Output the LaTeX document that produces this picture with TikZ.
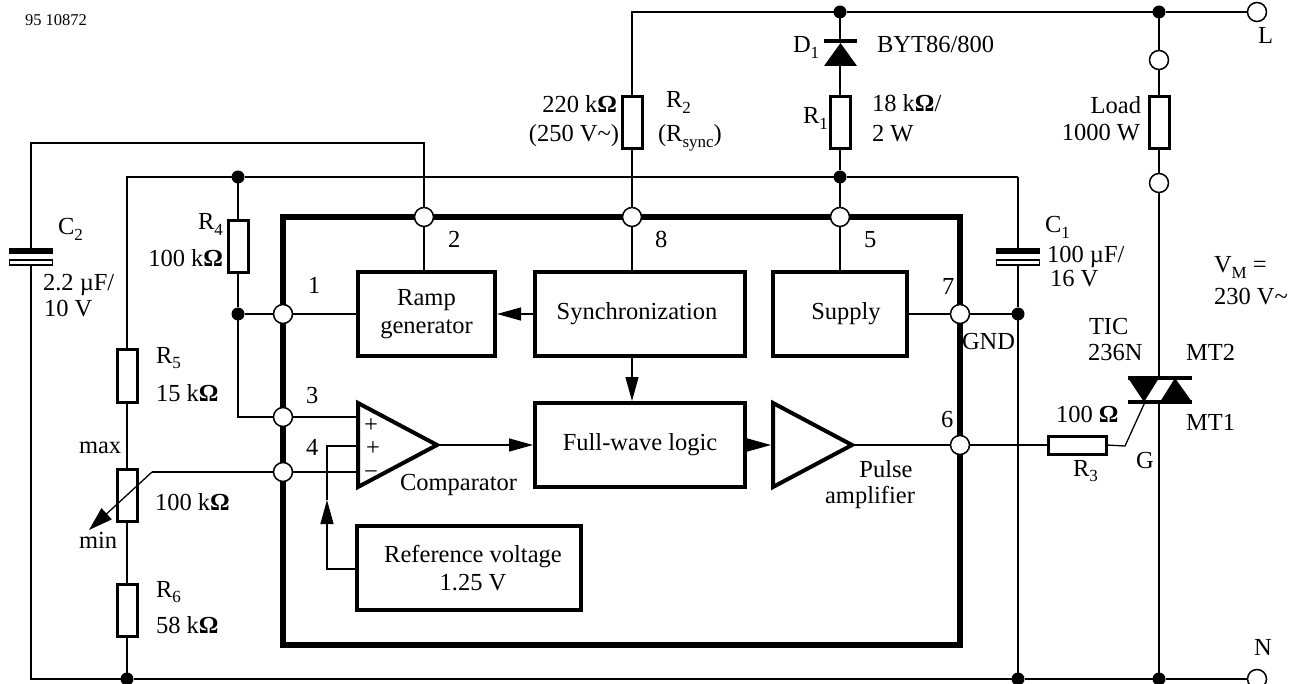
\documentclass[tikz,border=0pt]{standalone}
\usepackage{fontspec}
\setmainfont{Liberation Serif}
\usetikzlibrary{arrows.meta}
\newcommand{\lowsub}[1]{\raisebox{-0.24em}{\fontsize{17}{17}\selectfont #1}}
\newcommand{\ohm}{\textbf{Ω}}
\newcommand{\tld}{\symbol{"7E}}
\begin{document}
\begin{tikzpicture}[x=1pt,y=-1pt,
  wire/.style={line width=1.3pt,draw=black,line join=miter},
  arrowwire/.style={wire,-{Triangle[length=24pt,width=13pt]}},
  chipbox/.style={draw=black,line width=6pt,fill=white,inner sep=0pt,outer sep=0pt,rectangle,minimum width=677pt,minimum height=428pt},
  block/.style={draw=black,line width=3.2pt,fill=white,rectangle,inner sep=0pt,outer sep=0pt,align=center,font=\fontsize{24.5}{28}\selectfont},
  resistor/.style={draw=black,line width=3pt,fill=white,rectangle,inner sep=0pt,outer sep=0pt,minimum width=20pt,minimum height=52pt},
  pin/.style={circle,draw=black,line width=1.5pt,fill=white,inner sep=0pt,outer sep=0pt,minimum size=19pt},
  junction/.style={circle,fill=black,inner sep=0pt,outer sep=0pt,minimum size=13pt},
  plate/.style={rectangle,draw=black,inner sep=0pt,outer sep=0pt,minimum width=43pt,minimum height=5pt},
  lab/.style={inner sep=0pt,outer sep=0pt,anchor=base west,font=\fontsize{24.5}{28}\selectfont},
  labr/.style={lab,anchor=base east},
  labc/.style={lab,anchor=base},
  amp/.style={draw=black,line width=4pt,fill=white,line join=miter}]
\useasboundingbox (0,0) rectangle (1290,684);
% chip
\node[chipbox] (chip) at (621.5,431) {};
% blocks
\node[block,minimum width=137pt,minimum height=84pt] (ramp) at (426.5,314) {Ramp\\generator};
\node[block,minimum width=210pt,minimum height=84pt] (sync) at (640,314) {Synchronization\hspace{6pt}};
\node[block,minimum width=134pt,minimum height=84pt] (supply) at (840,314) {\hspace{12pt}Supply};
\node[block,minimum width=210pt,minimum height=84pt] (logic) at (640,445) {Full-wave logic};
\node[block,minimum width=224pt,minimum height=84pt] (ref) at (469,568) {\hspace{8pt}Reference voltage\\\hspace{8pt}1.25 V};
% triangles
\coordinate (cmpout) at (437,445);
\coordinate (cmpp1) at (358,417);
\coordinate (cmpp2) at (358,446);
\coordinate (cmpm) at (358,472);
\draw[amp] (358,403) -- (358,487) -- (cmpout) -- cycle;
\coordinate (pain) at (773,445);
\coordinate (paout) at (852,445);
\draw[amp] (773,403) -- (773,487) -- (paout) -- cycle;
% pins
\node[pin] (p1) at (283,314) {};
\node[pin] (p2) at (424,217) {};
\node[pin] (p3) at (283,417) {};
\node[pin] (p4) at (283,472) {};
\node[pin] (p5) at (840,217) {};
\node[pin] (p6) at (960,445) {};
\node[pin] (p7) at (960,314) {};
\node[pin] (p8) at (632,217) {};
\node[pin] (tL) at (1257,12) {};
\node[pin] (tN) at (1257,679) {};
\node[pin] (loadA) at (1159,60) {};
\node[pin] (loadB) at (1159,183) {};
% resistors
\node[resistor] (R2) at (632,123) {};
\node[resistor] (R1) at (840,123) {};
\node[resistor] (Rl) at (1159,123) {};
\node[resistor] (R4) at (238,246.5) {};
\node[resistor] (R5) at (127,376) {};
\node[resistor] (Rp) at (127,495) {};
\node[resistor] (R6) at (127,610) {};
\node[resistor,minimum width=58pt,minimum height=18pt] (R3) at (1077.5,445) {};
% capacitors
\node[plate,fill=black] (c2a) at (31,251) {};
\node[plate,fill=white,line width=1.5pt] (c2b) at (31,262.5) {};
\node[plate,fill=black] (c1a) at (1018,250.5) {};
\node[plate,fill=white,line width=1.5pt] (c1b) at (1018,262.5) {};
% junctions
\node[junction] (jt1) at (840,12) {};
\node[junction] (jt2) at (1159,12) {};
\node[junction] (jm1) at (238,177) {};
\node[junction] (jm2) at (840,177) {};
\node[junction] (j1) at (238,314) {};
\node[junction] (j7) at (1018,314) {};
\node[junction] (jb1) at (127,679) {};
\node[junction] (jb2) at (1018,679) {};
\node[junction] (jb3) at (1159,679) {};
% corner coordinates
\coordinate (topc) at (632,12);
\coordinate (c2up) at (31,143);
\coordinate (c2up2) at (424,143);
\coordinate (c2dn) at (31,679);
\coordinate (midl) at (127,177);
\coordinate (midr) at (1018,177);
\coordinate (j3) at (238,417);
\coordinate (wip) at (152,472);
\coordinate (wiptip) at (89,530);
\coordinate (refc1) at (327,569);
\coordinate (refc2) at (327,446);
\coordinate (refc3) at (327,500);
\coordinate (dk) at (840,41);
\coordinate (da) at (840,66);
\coordinate (triT) at (1159,378);
\coordinate (triB) at (1159,402);
\coordinate (gc) at (1125,446);
\coordinate (gt) at (1145,402);
% wires
\draw[wire] (tL.west) -- (jt2) -- (jt1) -- (topc) -- (R2.north);
\draw[wire] (R2.south) -- (p8.north);
\draw[wire] (p8.south) -- (p8.south |- sync.north);
\draw[wire] (jt1) -- (dk);
\draw[wire] (da) -- (R1.north);
\draw[wire] (R1.south) -- (jm2) -- (p5.north);
\draw[wire] (p5.south) -- (supply.north);
\draw[wire] (jt2) -- (loadA.north);
\draw[wire] (loadA.south) -- (Rl.north);
\draw[wire] (Rl.south) -- (loadB.north);
\draw[wire] (loadB.south) -- (triT);
\draw[wire] (triB) -- (jb3);
\draw[wire] (midr) -- (jm2) -- (jm1) -- (midl) -- (R5.north);
\draw[wire] (midr) -- (c1a.north);
\draw[wire] (c1b.south) -- (j7) -- (jb2);
\draw[wire] (c2a.north) -- (c2up) -- (c2up2) -- (p2.north);
\draw[wire] (p2.south) -- (ramp.north -| p2.south);
\draw[wire] (c2b.south) -- (c2dn) -- (jb1) -- (jb2) -- (jb3) -- (tN.west);
\draw[wire] (jm1) -- (R4.north);
\draw[wire] (R4.south) -- (j1) -- (j3) -- (p3.west);
\draw[wire] (j1) -- (p1.west);
\draw[wire] (p1.east) -- (ramp.west);
\draw[wire] (p3.east) -- (cmpp1);
\draw[wire] (p4.east) -- (cmpm);
\draw[wire] (R5.south) -- (Rp.north);
\draw[wire] (Rp.south) -- (R6.north);
\draw[wire] (R6.south) -- (jb1);
\draw[wire] (p4.west) -- (wip);
\draw[wire,-{Triangle[length=24pt,width=15pt]}] (wip) -- (wiptip);
\draw[wire] (cmpp2) -- (refc2) -- (refc3);
\draw[arrowwire] (ref.west |- refc1) -- (refc1) -- (refc3);
\draw[arrowwire,shorten >=2pt] (cmpout) -- (logic.west);
\draw[arrowwire,shorten >=2pt] (logic.east) -- (pain);
\draw[arrowwire,shorten >=2pt] (sync.west) -- (ramp.east);
\draw[arrowwire,shorten >=2pt] (sync.south -| p8) -- (logic.north -| p8);
\draw[wire] (paout) -- (p6.west);
\draw[wire] (p6.east) -- (R3.west);
\draw[wire] (R3.east) -- (gc) -- (gt);
\draw[wire] (supply.east) -- (p7.west);
\draw[wire] (p7.east) -- (j7);
% diode
\fill (824,66) -- (857,66) -- (840.5,43) -- cycle;
\fill (824,39) rectangle (857,43);
% triac
\fill (1128,376) rectangle (1192,380);
\fill (1128,400) rectangle (1192,404);
\fill (1128,378) -- (1159,378) -- (1144,402) -- cycle;
\fill (1160,402) -- (1192,402) -- (1175,378) -- cycle;
% labels
\node[lab,font=\fontsize{16.5}{18}\selectfont] (tag) at (25,26) {95 10872};
\node[lab] (lD1) at (793,53) {D\lowsub{1}};
\node[lab] (lD1v) at (877,53) {BYT86/800};
\node[labr] (lR2a) at (617,113) {220 k\ohm};
\node[labr] (lR2b) at (619,142) {(250 V\tld)};
\node[lab] (lR2) at (666,108) {R\lowsub{2}};
\node[lab] (lR2s) at (658,142) {(R\lowsub{sync})};
\node[lab] (lR1) at (803,124) {R\lowsub{1}};
\node[lab] (lR1a) at (872,112) {18 k\ohm/};
\node[lab] (lR1b) at (872,142) {2 W};
\node[lab] (lL) at (1258,44) {L};
\node[lab] (lN) at (1254,655) {N};
\node[labr] (lLoad) at (1141,114) {Load};
\node[labr] (lLoadb) at (1140,141) {1000 W};
\node[lab] (lC2) at (58,235) {C\lowsub{2}};
\node[lab] (lC2a) at (43,291) {2.2 µF/};
\node[lab] (lC2b) at (44,317) {10 V};
\node[lab] (lR4) at (198,230) {R\lowsub{4}};
\node[labr] (lR4a) at (223,267) {100 k\ohm};
\node[lab] (lR5) at (156,363) {R\lowsub{5}};
\node[lab] (lR5a) at (156,401) {15 k\ohm};
\node[lab] (lmax) at (79,453) {max};
\node[lab] (lRp) at (155,510) {100 k\ohm};
\node[lab] (lmin) at (79,548) {min};
\node[lab] (lR6) at (156,597) {R\lowsub{6}};
\node[lab] (lR6a) at (156,633) {58 k\ohm};
\node[lab] (n1) at (308,294) {1};
\node[lab] (n2) at (448,248) {2};
\node[lab] (n3) at (306,403) {3};
\node[lab] (n4) at (306,455) {4};
\node[lab] (n5) at (864,248) {5};
\node[lab] (n6) at (941,427) {6};
\node[lab] (n7) at (942,295) {7};
\node[lab] (n8) at (655,248) {8};
\node[lab] (gnd) at (962,349) {GND};
\node[lab] (lC1) at (1045,233) {C\lowsub{1}};
\node[lab] (lC1a) at (1047,263) {100 µF/};
\node[lab] (lC1b) at (1050,287) {16 V};
\node[lab] (lVM) at (1214,273) {V\lowsub{M} =};
\node[lab] (lVMb) at (1214,305) {230 V\tld};
\node[lab] (lTIC) at (1089,335) {TIC};
\node[lab] (lTICb) at (1088,361) {236N};
\node[lab] (lMT2) at (1186,361) {MT2};
\node[lab] (lMT1) at (1186,430) {MT1};
\node[lab] (lG) at (1136,468) {G};
\node[lab] (lR3v) at (1056,422) {100 \ohm};
\node[lab] (lR3) at (1073,476) {R\lowsub{3}};
\node[lab] (lcmp) at (400,490) {Comparator};
\node[labc] (lpa1) at (886,477) {Pulse};
\node[labc] (lpa2) at (870,503) {amplifier};
\node[labc] (plus1) at (371,432) {+};
\node[labc] (plus2) at (373,455) {+};
\node[labc] (minus1) at (371,479) {−};
\end{tikzpicture}
\end{document}
